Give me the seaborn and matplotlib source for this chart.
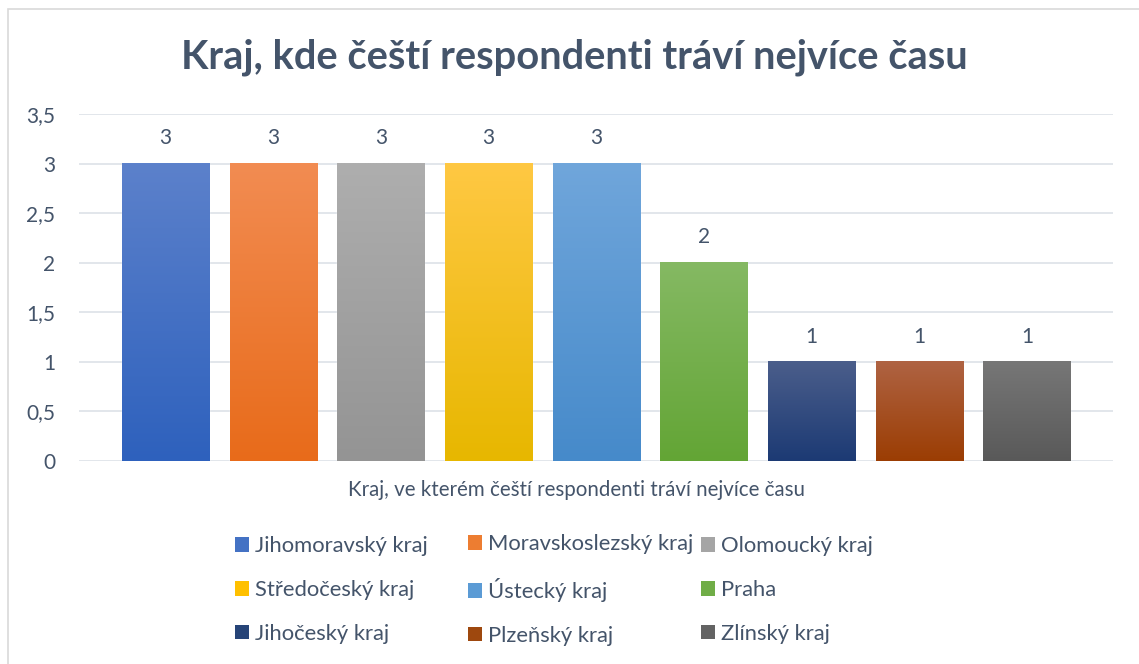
import numpy as np
import pandas as pd
import matplotlib
matplotlib.use("Agg")
import matplotlib.pyplot as plt
import seaborn as sns
from matplotlib.colors import LinearSegmentedColormap
from matplotlib.patches import Patch, Rectangle
from matplotlib.ticker import FuncFormatter

# ---------------- DATA ----------------
regions = [
    "Jihomoravský kraj", "Moravskoslezský kraj", "Olomoucký kraj",
    "Středočeský kraj", "Ústecký kraj", "Praha",
    "Jihočeský kraj", "Plzeňský kraj", "Zlínský kraj",
]
counts = [3, 3, 3, 3, 3, 2, 1, 1, 1]

# top / bottom colours of the Excel-style gradient
top_colors = ["#5C81CB", "#F28C52", "#AEAEAE", "#FFC843", "#70A6DB",
              "#85B963", "#4B5E8B", "#AF6343", "#777777"]
bottom_colors = ["#2E61BD", "#E86B1A", "#949494", "#E7B700", "#468ACA",
                 "#63A535", "#1C3A74", "#9B3D03", "#595959"]
base_colors = ["#4472C4", "#ED7D31", "#A5A5A5", "#FFC000", "#5B9BD5",
               "#70AD47", "#264478", "#9E480E", "#636363"]

TITLE = "Kraj, kde čeští respondenti tráví nejvíce času"
XLABEL = "Kraj, ve kterém čeští respondenti tráví nejvíce času"

TEXT = "#44546A"
GRID = "#DADFE6"

# ---------------- THEME ----------------
sns.set_theme(style="white")
plt.rcParams["font.family"] = ["Lato", "DejaVu Sans"]

df = pd.DataFrame({"region": regions, "count": counts})

fig = plt.figure(figsize=(11.39, 6.64), dpi=100)
ax = fig.add_axes([79 / 1139, 1 - 461 / 664, (1113 - 79) / 1139, (461 - 114) / 664])

sns.barplot(
    data=df, x="region", y="count", hue="region",
    palette=dict(zip(regions, base_colors)),
    saturation=1, width=0.81, legend=False, ax=ax,
)

# vertical gradient on every bar
for p in ax.patches:
    i = int(round(p.get_x() + p.get_width() / 2))
    cmap = LinearSegmentedColormap.from_list("g", [bottom_colors[i], top_colors[i]])
    grad = np.linspace(0, 1, 256).reshape(-1, 1)
    ax.imshow(grad, cmap=cmap, origin="lower", aspect="auto", zorder=p.get_zorder() + 0.1,
              extent=[p.get_x(), p.get_x() + p.get_width(), 0, p.get_height()])

for c in ax.containers:
    ax.bar_label(c, fmt="%g", padding=11, fontsize=15, color=TEXT)

ax.set_xlim(-0.803, 8.80)
ax.set_ylim(0, 3.5)
ax.set_yticks(np.arange(0, 3.51, 0.5))
ax.yaxis.set_major_formatter(FuncFormatter(lambda v, _: f"{v:g}".replace(".", ",")))
ax.set_xticks([])
ax.tick_params(axis="y", length=0, pad=17, labelsize=15, labelcolor=TEXT)
ax.grid(axis="y", color=GRID, linewidth=1.1)
ax.set_axisbelow(True)
for s in ax.spines.values():
    s.set_visible(False)
ax.set_ylabel("")
ax.set_xlabel(XLABEL, fontsize=14.8, color=TEXT)
ax.xaxis.set_label_coords((576 - 79) / 1034, -0.055)

fig.text(574 / 1139, 1 - 57 / 664, TITLE, ha="center", va="center",
         fontsize=28.7, fontweight="bold", color=TEXT)

# legend: three columns, placed like Excel's evenly spaced grid
col_x = [235, 468, 701]
for k, x in enumerate(col_x):
    idx = [k, k + 3, k + 6]
    handles = [Patch(facecolor=base_colors[i], edgecolor="none") for i in idx]
    fig.legend(handles, [regions[i] for i in idx], loc="center left",
               bbox_to_anchor=(x / 1139, 1 - 590 / 664), frameon=False,
               fontsize=15.8, labelcolor=TEXT, handlelength=0.64, handleheight=0.64,
               handletextpad=0.25, labelspacing=1.08, borderpad=0, borderaxespad=0)

# light chart frame
fig.patches.append(Rectangle((8 / 1139, -0.1), 1.2, 1.1 - 9 / 664,
                             transform=fig.transFigure, fill=False,
                             edgecolor="#D9D9D9", linewidth=1.2))

fig.savefig("out.png", dpi=100)
